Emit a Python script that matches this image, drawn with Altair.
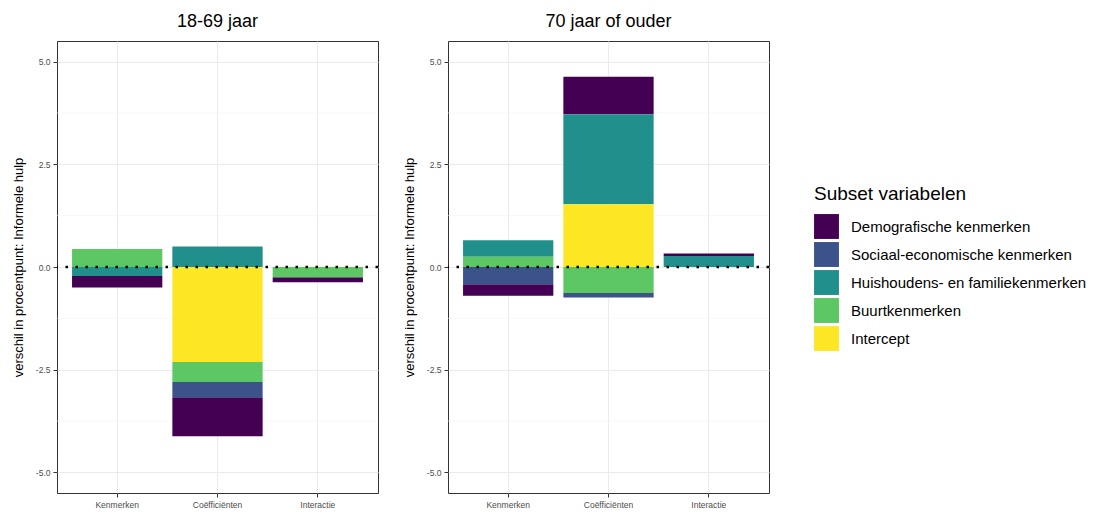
import altair as alt
import pandas as pd

# ---- data ----
panels = ["18-69 jaar", "70 jaar of ouder"]
components = ["Kenmerken", "Coëfficiënten", "Interactie"]
subsets = [
    "Demografische kenmerken",
    "Sociaal-economische kenmerken",
    "Huishoudens- en familiekenmerken",
    "Buurtkenmerken",
    "Intercept",
]
colors = ["#440154", "#3B528B", "#21908C", "#5DC863", "#FDE725"]

# values per subset, in order of components (Kenmerken, Coëfficiënten, Interactie)
young_demo = [-0.28, -0.95, -0.12]
young_soc = [0.0, -0.37, 0.0]
young_huis = [-0.22, 0.50, 0.0]
young_buurt = [0.44, -0.49, -0.25]
young_icpt = [0.0, -2.31, 0.0]

old_demo = [-0.28, 0.91, 0.06]
old_soc = [-0.42, -0.11, 0.0]
old_huis = [0.40, 2.19, 0.27]
old_buurt = [0.25, -0.63, 0.0]
old_icpt = [0.0, 1.53, 0.0]

y_major = [-5.0, -2.5, 0.0, 2.5, 5.0]
y_minor = [-3.75, -1.25, 1.25, 3.75]
y_domain = [-5.5, 5.5]

series = {
    panels[0]: [young_demo, young_soc, young_huis, young_buurt, young_icpt],
    panels[1]: [old_demo, old_soc, old_huis, old_buurt, old_icpt],
}

rows = []
for age, vals in series.items():
    for si, (sub, vlist) in enumerate(zip(subsets, vals)):
        for comp, v in zip(components, vlist):
            rows.append({"age": age, "component": comp, "subset": sub, "ord": si, "value": v})
df = pd.DataFrame(rows)

FONT = "Liberation Sans"
yscale = alt.Scale(domain=y_domain, nice=False, zero=False)
cscale = alt.Scale(domain=subsets, range=colors)
yaxis = alt.Axis(
    title="verschil in procentpunt: Informele hulp",
    values=y_major,
    labelExpr="replace(format(datum.value, '.1f'), '\u2212', '-')",
)


def panel(age):
    d = df[df["age"] == age]
    minor = alt.Chart(pd.DataFrame({"value": y_minor})).mark_rule(
        color="#F4F4F4", strokeWidth=0.6
    ).encode(y=alt.Y("value:Q", scale=yscale, axis=yaxis))
    bars = alt.Chart(d).mark_bar().encode(
        x=alt.X(
            "component:N",
            sort=components,
            scale=alt.Scale(paddingInner=0.1, paddingOuter=0.15),
            axis=alt.Axis(title=None, labelAngle=0, grid=True, ticks=True),
        ),
        y=alt.Y("value:Q", stack="zero", scale=yscale, axis=yaxis),
        color=alt.Color(
            "subset:N",
            scale=cscale,
            sort=subsets,
            legend=alt.Legend(
                title="Subset variabelen",
                orient="none",
                legendX=757,
                legendY=144,
                symbolType="square",
                symbolSize=620,
                symbolStrokeWidth=0,
                symbolOpacity=1,
                titleFontSize=19,
                titleFontWeight="normal",
                titleColor="black",
                titlePadding=10,
                labelFontSize=15,
                labelColor="black",
                labelOffset=12,
                labelLimit=0,
                rowPadding=3,
            ),
        ),
        order=alt.Order("ord:Q", sort="descending"),
    )
    zero = alt.Chart(pd.DataFrame({"value": [0.0]})).mark_rule(
        color="black", strokeWidth=2.5, strokeDash=[2.5, 7.5]
    ).encode(y=alt.Y("value:Q", scale=yscale, axis=yaxis))
    return alt.layer(minor, bars, zero).properties(
        width=321, height=452, title=alt.TitleParams(age)
    )


chart = (
    alt.hconcat(panel(panels[0]), panel(panels[1]), spacing=22)
    .properties(padding={"left": 3, "top": 4, "right": 5, "bottom": 5})
    .configure(font=FONT)
    .configure_view(stroke="#333333", strokeWidth=1)
    .configure_axis(
        domain=False,
        gridColor="#EBEBEB",
        gridWidth=1,
        tickColor="#333333",
        tickSize=4,
        labelColor="#4D4D4D",
        labelFontSize=8.5,
        labelPadding=3,
        titleFontSize=13,
        titleFontWeight="normal",
        titleColor="black",
        titlePadding=10,
    )
    .configure_title(fontSize=18, fontWeight="normal", anchor="middle", color="black", offset=10)
)

chart.save("out.html", embed_options={"renderer": "svg", "actions": False})
